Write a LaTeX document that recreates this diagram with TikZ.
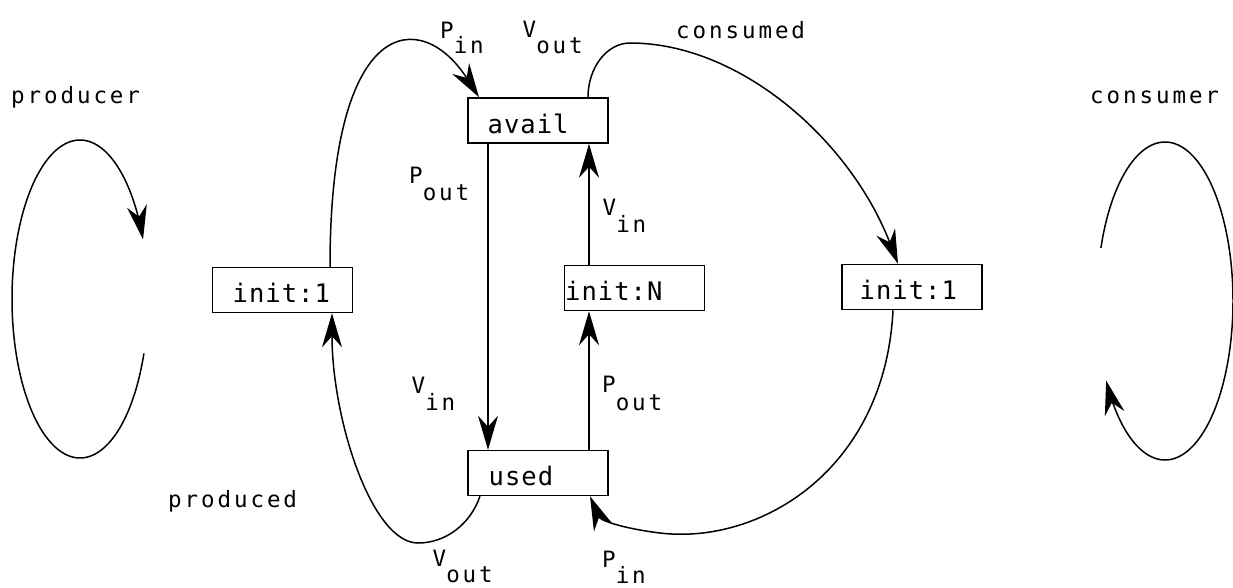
\documentclass[tikz,border=0pt]{standalone}
\usepackage{fontspec}
\usetikzlibrary{arrows.meta}
\newfontfamily\lblfont[LetterSpace=13]{DejaVu Sans Mono}
\newfontfamily\boxfont[LetterSpace=4]{DejaVu Sans Mono}
\newcommand\mysub[3]{#1\raisebox{-#3pt}{#2}}
\tikzset{
  box/.style={draw, line width=1.5pt, minimum width=140pt, minimum height=45pt, inner sep=0pt},
  txt/.style={anchor=base west, inner sep=0pt, font=\boxfont\fontsize{25.5}{30}\selectfont},
  lbl/.style={anchor=base west, inner sep=0pt, font=\lblfont\fontsize{22.5}{26}\selectfont},
  arr/.style={line width=1.5pt, -{Stealth[length=34pt,width=20pt,inset=11pt]}},
  ln/.style={line width=1.5pt}
}
\begin{document}
\begin{tikzpicture}[x=1pt,y=-1pt]
\useasboundingbox (0,0) rectangle (1233,587);
% boxes
\node[box] (avail) at (538,120.5) {};
\node[box] (used)  at (538,473) {};
\node[box] (initA) at (282.5,290) {};
\node[box] (initN) at (634.5,288) {};
\node[box] (initB) at (912,287) {};
% box texts
\node[txt] (availt) at (487.5,133) {avail};
\node[txt] (usedt)  at (488.5,485) {used};
\node[txt] (initAt) at (232.5,302) {init:1};
\node[txt] (initNt) at (565,300) {init:N};
\node[txt] (initBt) at (859.5,299) {init:1};
% labels
\node[lbl] (producer) at (11,103) {producer};
\node[lbl] (produced) at (168,507) {produced};
\node[lbl] (consumed) at (676,38) {consumed};
\node[lbl] (consumer) at (1090,103) {consumer};
\node[lbl] (pin1)  at (440,38)    {\mysub{P}{in}{15}};
\node[lbl] (vout1) at (522.5,37)  {\mysub{V}{out}{16}};
\node[lbl] (pout1) at (409,183)   {\mysub{P}{out}{17}};
\node[lbl] (vin1)  at (602.5,215) {\mysub{V}{in}{17}};
\node[lbl] (vin2)  at (411.5,393) {\mysub{V}{in}{17}};
\node[lbl] (pout2) at (602,392)   {\mysub{P}{out}{18}};
\node[lbl] (vout2) at (432.5,566) {\mysub{V}{out}{16}};
\node[lbl] (pin2)  at (602,567)   {\mysub{P}{in}{16}};
% producer / consumer loops
\draw[arr] plot[domain=20:338, samples=150] ({80+68*cos(\x)},{299+159*sin(\x)});
\draw[arr] plot[domain=199.5:510, samples=150] ({1165+68*cos(\x)},{301+159*sin(\x)});
% connectors
\draw[arr] ([xshift=47.5pt]initA.north) .. controls (330,12) and (422,8) .. ([xshift=-59pt]avail.north);
\draw[arr] ([xshift=50pt]avail.north) .. controls (588,67.6) and (606.8,43) .. (630,43)
   .. controls (740,43) and (850,140) .. ([xshift=-14pt]initB.north);
\draw[arr] ([xshift=-19pt]initB.south) .. controls (885,470) and (760,545) .. (660,533)
   .. controls (620,528) and (600,520) .. ([xshift=52pt]used.south);
\draw[arr] ([xshift=-58pt]used.south) .. controls (470,525) and (445,543) .. (418,543)
   .. controls (372,543) and (332,420) .. ([xshift=49.5pt]initA.south);
\draw[arr] ([xshift=-50pt]avail.south) -- ([xshift=-50pt]used.north);
\draw[arr] ([xshift=51pt]used.north) -- ([xshift=-45.5pt]initN.south);
\draw[arr] ([xshift=-45.5pt]initN.north) -- ([xshift=51pt]avail.south);
\end{tikzpicture}
\end{document}
